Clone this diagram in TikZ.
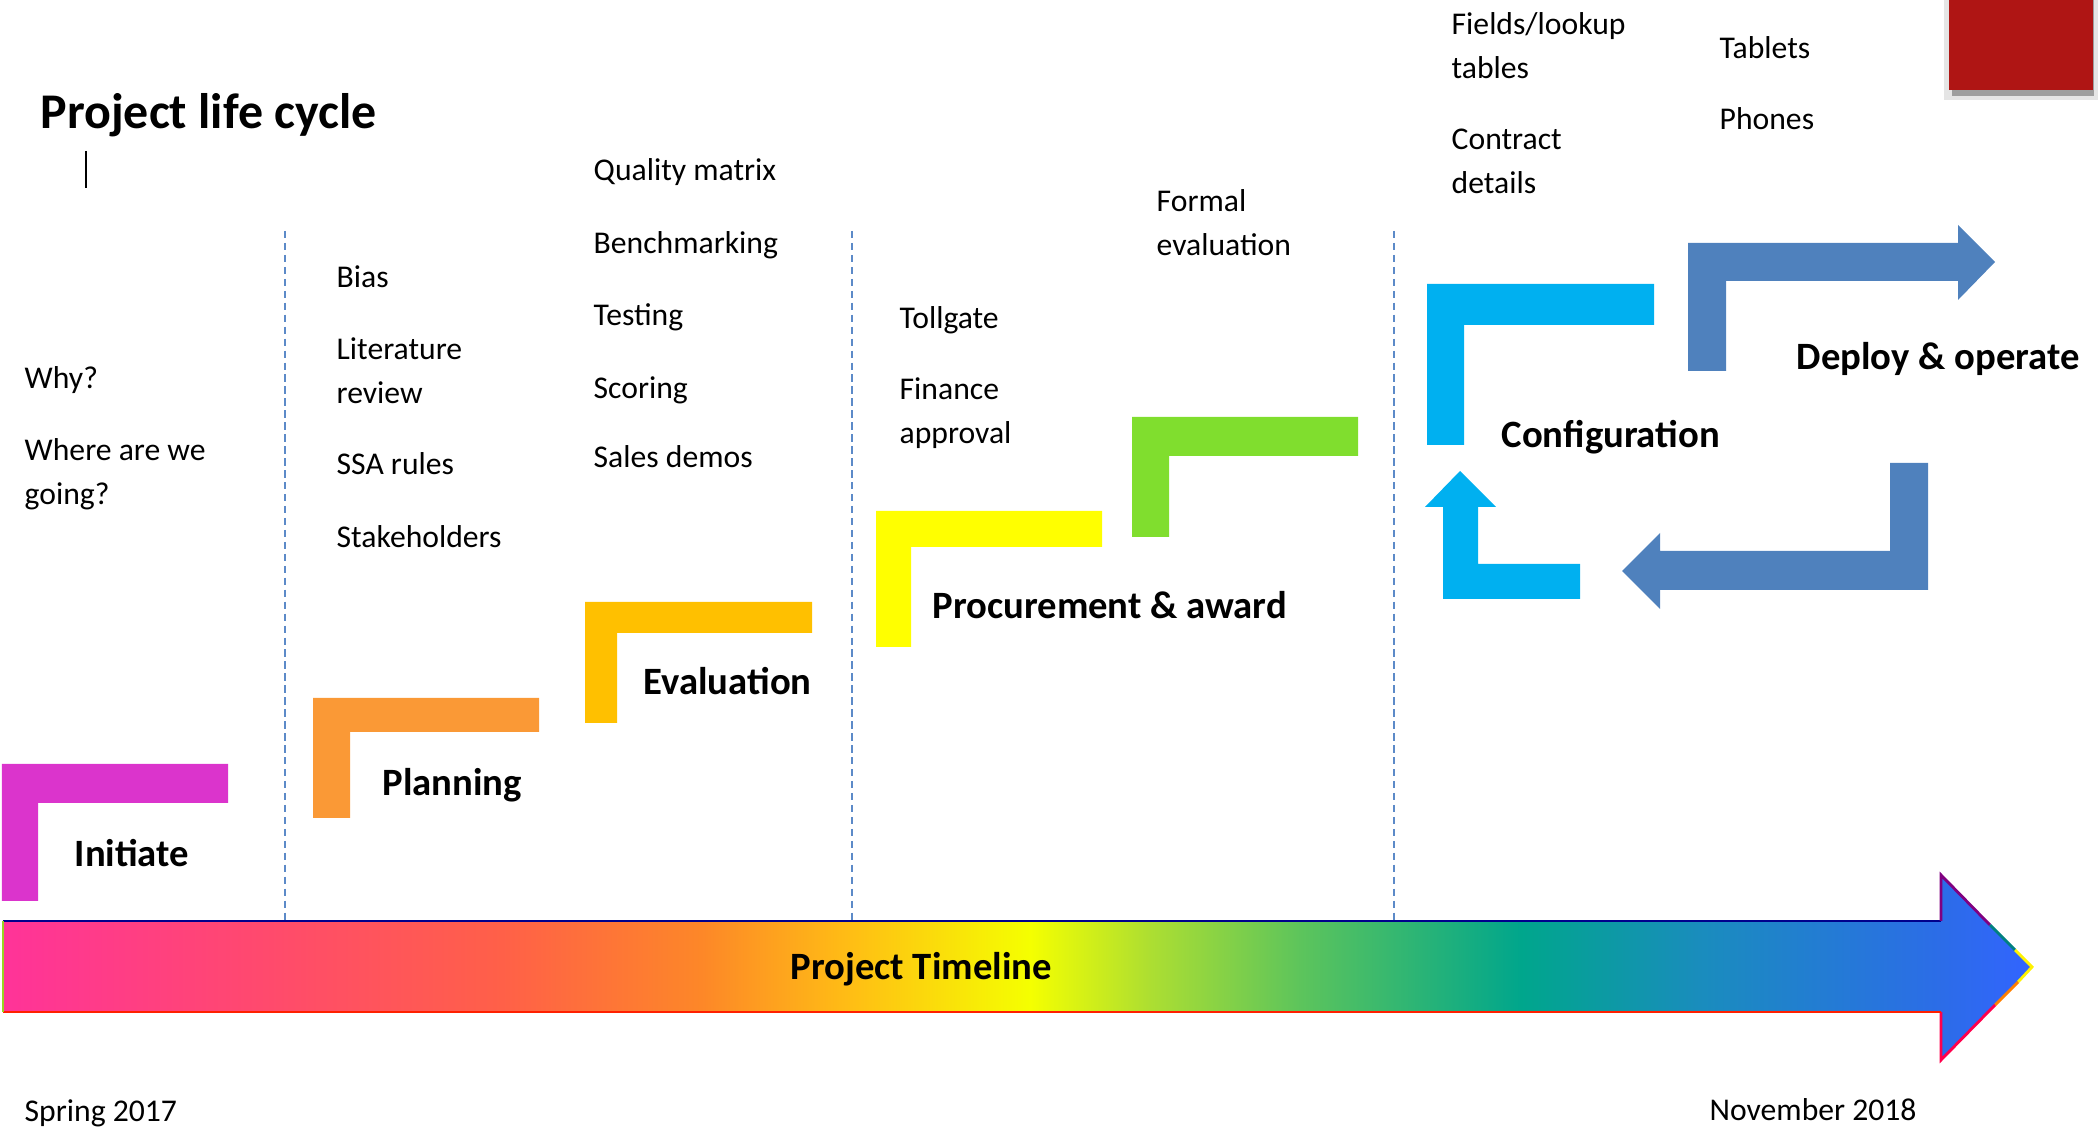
\documentclass[tikz,border=0pt]{standalone}
\usepackage{fontspec}
\setmainfont{Carlito}

\definecolor{initcol}{RGB}{219,52,204}
\definecolor{plancol}{RGB}{250,153,54}
\definecolor{evalcol}{RGB}{255,192,0}
\definecolor{proccol}{RGB}{255,255,0}
\definecolor{awardcol}{RGB}{128,222,46}
\definecolor{confcol}{RGB}{0,176,240}
\definecolor{deploycol}{RGB}{79,129,189}
\definecolor{divcol}{RGB}{92,138,200}
\definecolor{cornercol}{RGB}{175,21,20}

% colours along the timeline
\definecolor{tla}{RGB}{255,51,153}
\definecolor{tlb}{RGB}{255,72,112}
\definecolor{tlc}{RGB}{255,96,72}
\definecolor{tld}{RGB}{253,135,40}
\definecolor{tle}{RGB}{255,190,20}
\definecolor{tlf}{RGB}{245,255,0}
\definecolor{tlg}{RGB}{172,222,50}
\definecolor{tlh}{RGB}{92,196,92}
\definecolor{tli}{RGB}{0,166,140}
\definecolor{tlj}{RGB}{26,140,190}
\definecolor{tlk}{RGB}{44,108,232}
\definecolor{tll}{RGB}{50,100,255}
\pgfdeclarehorizontalshading{timeline}{100bp}{color(0bp)=(tla); color(25bp)=(tla);
  color(31bp)=(tlb); color(37.3bp)=(tlc); color(42.2bp)=(tld); color(45.9bp)=(tle);
  color(50.3bp)=(tlf); color(53.3bp)=(tlg); color(57bp)=(tlh); color(62.4bp)=(tli);
  color(66.9bp)=(tlj); color(72.8bp)=(tlk); color(75bp)=(tll); color(100bp)=(tll)}

\tikzset{
  item/.style={anchor=base west, inner sep=0pt, align=left, font=\fontsize{9}{12.7}\selectfont},
  phase/.style={anchor=base west, inner sep=0pt, font=\bfseries\fontsize{11}{13}\selectfont},
  divider/.style={draw=divcol, line width=0.65pt, dash pattern=on 2.1pt off 1.3pt},
}

\begin{document}
\begin{tikzpicture}[x=0.01cm, y=-0.01cm]
  \useasboundingbox (0,0) rectangle (2099,1131);

  \node [anchor=base west, inner sep=0pt, font=\bfseries\fontsize{14.2}{17}\selectfont] (title) at (40,129) {Project life cycle};
  \draw [line width=0.85pt] (86,151) -- (86,188);

  % red corner block with its shadow
  \fill [black!10] (1944,0) rectangle (2098,100);
  \fill [black!38] (1952,0) rectangle (2094,96);
  \fill [cornercol] (1949,0) rectangle (2093,90);

  % dividers
  \foreach \x in {285, 852, 1394}
    \draw [divider] (\x,231) -- (\x,921);

  % stage brackets
  \fill [initcol] (2,764) -- (228,764) -- (228,803) -- (38,803) -- (38,901) -- (2,901) -- cycle;
  \fill [plancol] (313,698) -- (539,698) -- (539,732) -- (350,732) -- (350,818) -- (313,818) -- cycle;
  \fill [evalcol] (585,602) -- (812,602) -- (812,633) -- (617,633) -- (617,723) -- (585,723) -- cycle;
  \fill [proccol] (876,511) -- (1102,511) -- (1102,547) -- (911,547) -- (911,647) -- (876,647) -- cycle;
  \fill [awardcol] (1132,417) -- (1358,417) -- (1358,456) -- (1169,456) -- (1169,537) -- (1132,537) -- cycle;
  \fill [confcol] (1427,284) -- (1654,284) -- (1654,325) -- (1464,325) -- (1464,445) -- (1427,445) -- cycle;

  % bent arrows of the deploy loop
  \fill [confcol] (1443,599) -- (1580,599) -- (1580,564) -- (1478,564) -- (1478,507) -- (1496,507)
    -- (1460,471) -- (1425,507) -- (1443,507) -- cycle;
  \fill [deploycol] (1688,371) -- (1688,243) -- (1958,243) -- (1958,225) -- (1995,262) -- (1958,300)
    -- (1958,281) -- (1726,281) -- (1726,371) -- cycle;
  \fill [deploycol] (1928,463) -- (1928,590) -- (1660,590) -- (1660,609) -- (1622,571) -- (1660,533)
    -- (1660,551) -- (1890,551) -- (1890,463) -- cycle;

  % timeline arrow
  \shade [shading=timeline] (3,921) -- (1941,921) -- (1941,875) -- (2032,967) -- (1941,1060)
    -- (1941,1012) -- (3,1012) -- cycle;
  \draw [line width=0.8pt, color=blue!55!black, line join=miter] (3,921) -- (1941,921);
  \draw [line width=0.8pt, color=violet, line join=miter] (1941,921) -- (1941,875) -- (1990,925);
  \draw [line width=0.8pt, color=teal] (1990,925) -- (2015,950);
  \draw [line width=0.8pt, color=yellow] (2015,950) -- (2032,967) -- (2018,982);
  \draw [line width=0.8pt, color=orange] (2018,982) -- (1995,1005);
  \draw [line width=0.8pt, color=red!70!magenta, line join=miter] (1995,1005) -- (1941,1060) -- (1941,1012);
  \draw [line width=0.8pt, color=red!75!orange] (1941,1012) -- (3,1012);
  \draw [line width=0.8pt, color=yellow!60!green] (3,921) -- (3,1012);

  \node [phase] (timeline) at (790,980) {Project Timeline};
  \node [item] (start) at (24,1122) {Spring 2017};
  \node [item] (finish) at (1709,1121) {November 2018};

  % stage names
  \node [phase] (initiate) at (74,867) {Initiate};
  \node [phase] (planning) at (382,796) {Planning};
  \node [phase] (evaluation) at (643,695) {Evaluation};
  \node [phase] (procurement) at (932,619) {Procurement \& award};
  \node [phase] (configuration) at (1501,448) {Configuration};
  \node [phase] (deploy) at (1796,370) {Deploy \& operate};

  % notes for each stage (two-line notes sit on their last line)
  \node [item] (why) at (24,389) {Why?};
  \node [item] (where) at (24,505) {Where are we\\going?};

  \node [item] (bias) at (336,288) {Bias};
  \node [item] (litreview) at (336,404) {Literature\\review};
  \node [item] (ssa) at (336,475) {SSA rules};
  \node [item] (stakeholders) at (336,548) {Stakeholders};

  \node [item] (quality) at (593,181) {Quality matrix};
  \node [item] (bench) at (593,254) {Benchmarking};
  \node [item] (testing) at (593,326) {Testing};
  \node [item] (scoring) at (593,399) {Scoring};
  \node [item] (demos) at (593,468) {Sales demos};

  \node [item] (tollgate) at (899,329) {Tollgate};
  \node [item] (finance) at (899,444) {Finance\\approval};
  \node [item] (formal) at (1156,256) {Formal\\evaluation};

  \node [item] (fields) at (1451,79) {Fields/lookup\\tables};
  \node [item] (contract) at (1451,194) {Contract\\details};
  \node [item] (tablets) at (1719,59) {Tablets};
  \node [item] (phones) at (1719,130) {Phones};
\end{tikzpicture}
\end{document}
